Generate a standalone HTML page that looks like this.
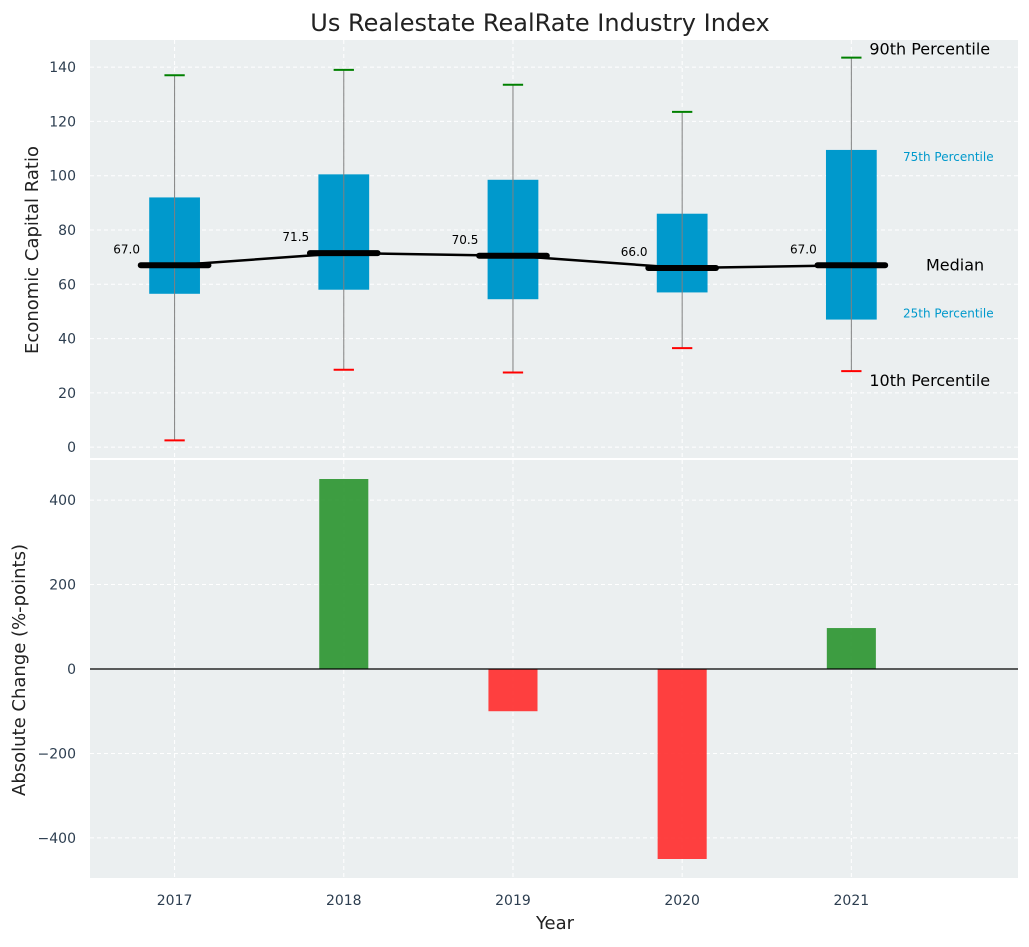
<!DOCTYPE html>
<html><head><meta charset="utf-8"><style>
body{margin:0;background:#fff;font-family:"Liberation Sans","DejaVu Sans",sans-serif}
svg text{font-family:"DejaVu Sans","Liberation Sans",sans-serif}
</style></head><body>
<svg id="c" width="1029" height="942"></svg>
<script>
const years=[2017,2018,2019,2020,2021];
const p10=[2.5,28.5,27.5,36.5,28];
const p25=[56.5,58,54.5,57,47];
const med=[67,71.5,70.5,66,67];
const p75=[92,100.5,98.5,86,109.5];
const p90=[137,139,133.5,123.5,143.5];
const change=[0,450,-100,-450,97];
const yTicksTop=[0,20,40,60,80,100,120,140];
const yTicksBot=[-400,-200,0,200,400];

const svg=document.getElementById('c');
const NS='http://www.w3.org/2000/svg';
function mk(t,a,txt){const e=document.createElementNS(NS,t);for(const k in a)e.setAttribute(k,a[k]);if(txt!==undefined)e.textContent=txt;svg.appendChild(e);return e;}
const L=90,R=1018;
const x=v=>L+(v-2016.5)/(2021.985-2016.5)*(R-L);
const T0=40,T1=458,B0=460,B1=878;
const yt=v=>T1-(v+4)/(154)*(T1-T0);
const yb=v=>B0+(495-v)/990*(B1-B0);

let e;
e=mk('rect',{x:L,y:T0,width:R-L,height:T1-T0,fill:'#ebeff0'});

e=mk('rect',{x:L,y:B0,width:R-L,height:B1-B0,fill:'#ebeff0'});


yTicksTop.forEach(v=>{mk('line',{x1:L,x2:R,y1:yt(v),y2:yt(v),stroke:'#fff','stroke-dasharray':'4,3'});
 e=mk('text',{x:L-14,y:yt(v)+5,'text-anchor':'end','font-size':14,fill:'#2d3e50'},v);
 });
yTicksBot.forEach(v=>{mk('line',{x1:L,x2:R,y1:yb(v),y2:yb(v),stroke:'#fff','stroke-dasharray':'4,3'});
 e=mk('text',{x:L-14,y:yb(v)+5,'text-anchor':'end','font-size':14,fill:'#2d3e50'},(v<0?'\u2212'+(-v):v));
 });
years.forEach(yr=>{
 mk('line',{x1:x(yr),x2:x(yr),y1:T0,y2:T1,stroke:'#fff','stroke-dasharray':'4,3'});
 mk('line',{x1:x(yr),x2:x(yr),y1:B0,y2:B1,stroke:'#fff','stroke-dasharray':'4,3'});
 e=mk('text',{x:x(yr),y:905,'text-anchor':'middle','font-size':14,fill:'#2d3e50'},yr);
 
});

years.forEach((yr,i)=>{
 const cx=x(yr),hw=(x(2017.15)-x(2017));
 e=mk('rect',{x:cx-hw,y:yt(p75[i]),width:2*hw,height:yt(p25[i])-yt(p75[i]),fill:'#0099cc'});
 
 e=mk('line',{x1:cx,x2:cx,y1:yt(p90[i]),y2:yt(p10[i]),stroke:'#808080','stroke-width':1});
 
 const cw=x(2017.06)-x(2017);
 e=mk('line',{x1:cx-cw,x2:cx+cw,y1:yt(p90[i]),y2:yt(p90[i]),stroke:'green','stroke-width':2});
 
 e=mk('line',{x1:cx-cw,x2:cx+cw,y1:yt(p10[i]),y2:yt(p10[i]),stroke:'red','stroke-width':2});
 
});
e=mk('polyline',{points:years.map((yr,i)=>x(yr)+','+yt(med[i])).join(' '),fill:'none',stroke:'#000','stroke-width':2.5});

years.forEach((yr,i)=>{
 const cx=x(yr),mw=x(2017.2)-x(2017);
 e=mk('line',{x1:cx-mw,x2:cx+mw,y1:yt(med[i]),y2:yt(med[i]),stroke:'#000','stroke-width':6,'stroke-linecap':'round'});
 
 e=mk('text',{x:cx-48,y:yt(med[i])-12,'text-anchor':'middle','font-size':12,fill:'#000'},med[i].toFixed(1));
 
});
const last=years.length-1,ax=x(years[last]);
[['90th Percentile',ax+18,yt(p90[last])-3,16,'#000','annot-p90'],
 ['75th Percentile',903,yt(p75[last])+11,12,'#0099cc','annot-p75'],
 ['Median',926,yt(med[last])+5,16,'#000','annot-median'],
 ['25th Percentile',903,yt(p25[last])-2,12,'#0099cc','annot-p25'],
 ['10th Percentile',ax+18,yt(p10[last])+15,16,'#000','annot-p10']].forEach(a=>{
 e=mk('text',{x:a[1],y:a[2],'font-size':a[3],fill:a[4]},a[0]);
 
});

years.forEach((yr,i)=>{
 const cx=x(yr),hw=x(2017.145)-x(2017),v=change[i];
 e=mk('rect',{x:cx-hw,y:Math.min(yb(v),yb(0)),width:2*hw,height:Math.abs(yb(v)-yb(0)),fill:v>=0?'#2e9632':'#ff3030','fill-opacity':0.92});
 
});
e=mk('line',{x1:L,x2:R,y1:yb(0),y2:yb(0),stroke:'#000','stroke-width':1.2});


e=mk('text',{x:540,y:31,'text-anchor':'middle','font-size':24,fill:'#222'},'Us Realestate RealRate Industry Index');

e=mk('text',{x:555,y:929,'text-anchor':'middle','font-size':18,fill:'#222'},'Year');

e=mk('text',{x:0,y:0,'text-anchor':'middle','font-size':18,fill:'#222',transform:'translate(38,250) rotate(-90)'},'Economic Capital Ratio');

e=mk('text',{x:0,y:0,'text-anchor':'middle','font-size':18,fill:'#222',transform:'translate(25,670) rotate(-90)'},'Absolute Change (%-points)');

</script>
</body></html>
